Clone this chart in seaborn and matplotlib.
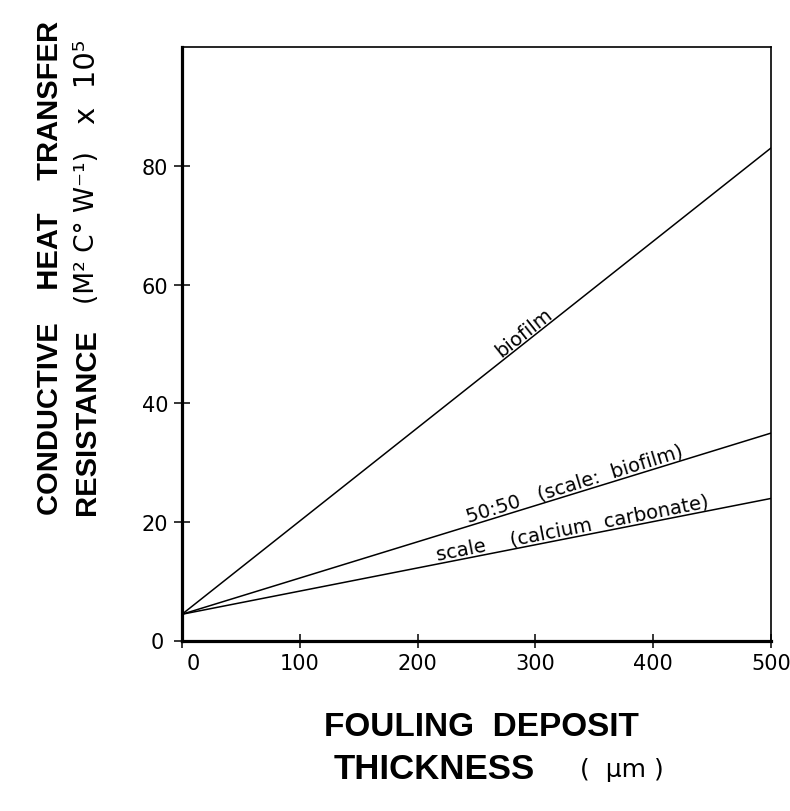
import math
import numpy as np
import pandas as pd
import matplotlib
matplotlib.use("Agg")
import matplotlib.pyplot as plt
from matplotlib.transforms import ScaledTranslation
import seaborn as sns

# ---- data ----
thickness = [0, 500]
biofilm = [4.5, 83]
mix_50_50 = [4.5, 35]
scale_caco3 = [4.5, 24]
series_names = ["biofilm", "50:50   (scale:  biofilm)", "scale    (calcium  carbonate)"]
series_values = [biofilm, mix_50_50, scale_caco3]
label_x = [295, 336, 333]
x_ticks = [0, 100, 200, 300, 400, 500]
y_ticks = [0, 20, 40, 60, 80]

df = pd.DataFrame({
    "thickness": thickness * 3,
    "resistance": biofilm + mix_50_50 + scale_caco3,
    "deposit": [n for n in series_names for _ in thickness],
})

sns.set_style("ticks")
plt.rcParams["font.family"] = ["DejaVu Sans"]

W, H = 790, 812
fig = plt.figure(figsize=(W / 100, H / 100), dpi=100)
ax = fig.add_axes([182 / W, 1 - 642 / H, (771 - 182) / W, (642 - 48) / H])

sns.lineplot(data=df, x="thickness", y="resistance", hue="deposit",
             palette=["black"] * 3, legend=False, linewidth=1.1, ax=ax)

ax.set_xlim(0, 500)
ax.set_ylim(0, 100)
ax.set_xticks(x_ticks)
ax.set_yticks(y_ticks)
ax.set_xticklabels([str(v) for v in x_ticks])
ax.set_yticklabels([str(v) for v in y_ticks])
ax.set_xlabel("")
ax.set_ylabel("")
ax.tick_params(axis="x", direction="inout", length=9.5, width=1.1, pad=4,
               labelsize=15, colors="black")
ax.tick_params(axis="y", direction="inout", length=12, width=1.1, pad=4,
               labelsize=15, colors="black")
for side, lw in [("left", 2.3), ("bottom", 2.3), ("top", 1.2), ("right", 1.2)]:
    ax.spines[side].set_visible(True)
    ax.spines[side].set_linewidth(lw)
    ax.spines[side].set_color("black")

# nudge the x "0" label right, y "0" label slightly left, as in the reference
xl0 = ax.get_xticklabels()[0]
xl0.set_transform(xl0.get_transform() + ScaledTranslation(8 / 72, 0, fig.dpi_scale_trans))
yl0 = ax.get_yticklabels()[0]
yl0.set_transform(yl0.get_transform() + ScaledTranslation(-3 / 72, 1 / 72, fig.dpi_scale_trans))

# line labels, rotated along lines
for name, vals, xc in zip(series_names, series_values, label_x):
    p1 = ax.transData.transform((thickness[0], vals[0]))
    p2 = ax.transData.transform((thickness[1], vals[1]))
    ang = math.degrees(math.atan2(p2[1] - p1[1], p2[0] - p1[0]))
    yc = np.interp(xc, thickness, vals)
    ax.text(xc, yc, name, rotation=ang, rotation_mode="anchor",
            ha="center", va="bottom", fontsize=14, color="black",
            family=["DejaVu Sans"])

# y axis label (two rotated lines)
ylab_font = dict(family=["Liberation Sans", "DejaVu Sans"], fontweight="bold", fontsize=21)

def vtext(xpix, ypix, s, **kw):
    fig.text(xpix / W, 1 - ypix / H, s, rotation=90, rotation_mode="anchor",
             ha="left", va="center", color="black", **kw)

vtext(50, 515, "CONDUCTIVE    HEAT    TRANSFER", **ylab_font)
vtext(87, 515, "RESISTANCE", **ylab_font)
vtext(87, 304, "(M² C° W⁻¹)", family=["DejaVu Sans"], fontsize=19)
vtext(87, 124, "x  10⁵", family=["DejaVu Sans"], fontsize=21)

# x axis label
xl_font = dict(family=["Liberation Sans", "DejaVu Sans"], fontweight="bold", fontsize=24)
fig.text(481 / W, 1 - 728 / H, "FOULING  DEPOSIT", ha="center", va="center",
         color="black", **xl_font)
fig.text(334 / W, 1 - 770 / H, "THICKNESS", ha="left", va="center",
         color="black", family=["Liberation Sans", "DejaVu Sans"],
         fontweight="bold", fontsize=25)
fig.text(580 / W, 1 - 770 / H, "(  μm )", ha="left", va="center",
         color="black", family=["DejaVu Sans"], fontsize=18)

fig.savefig("out.png", dpi=100, facecolor="white")
